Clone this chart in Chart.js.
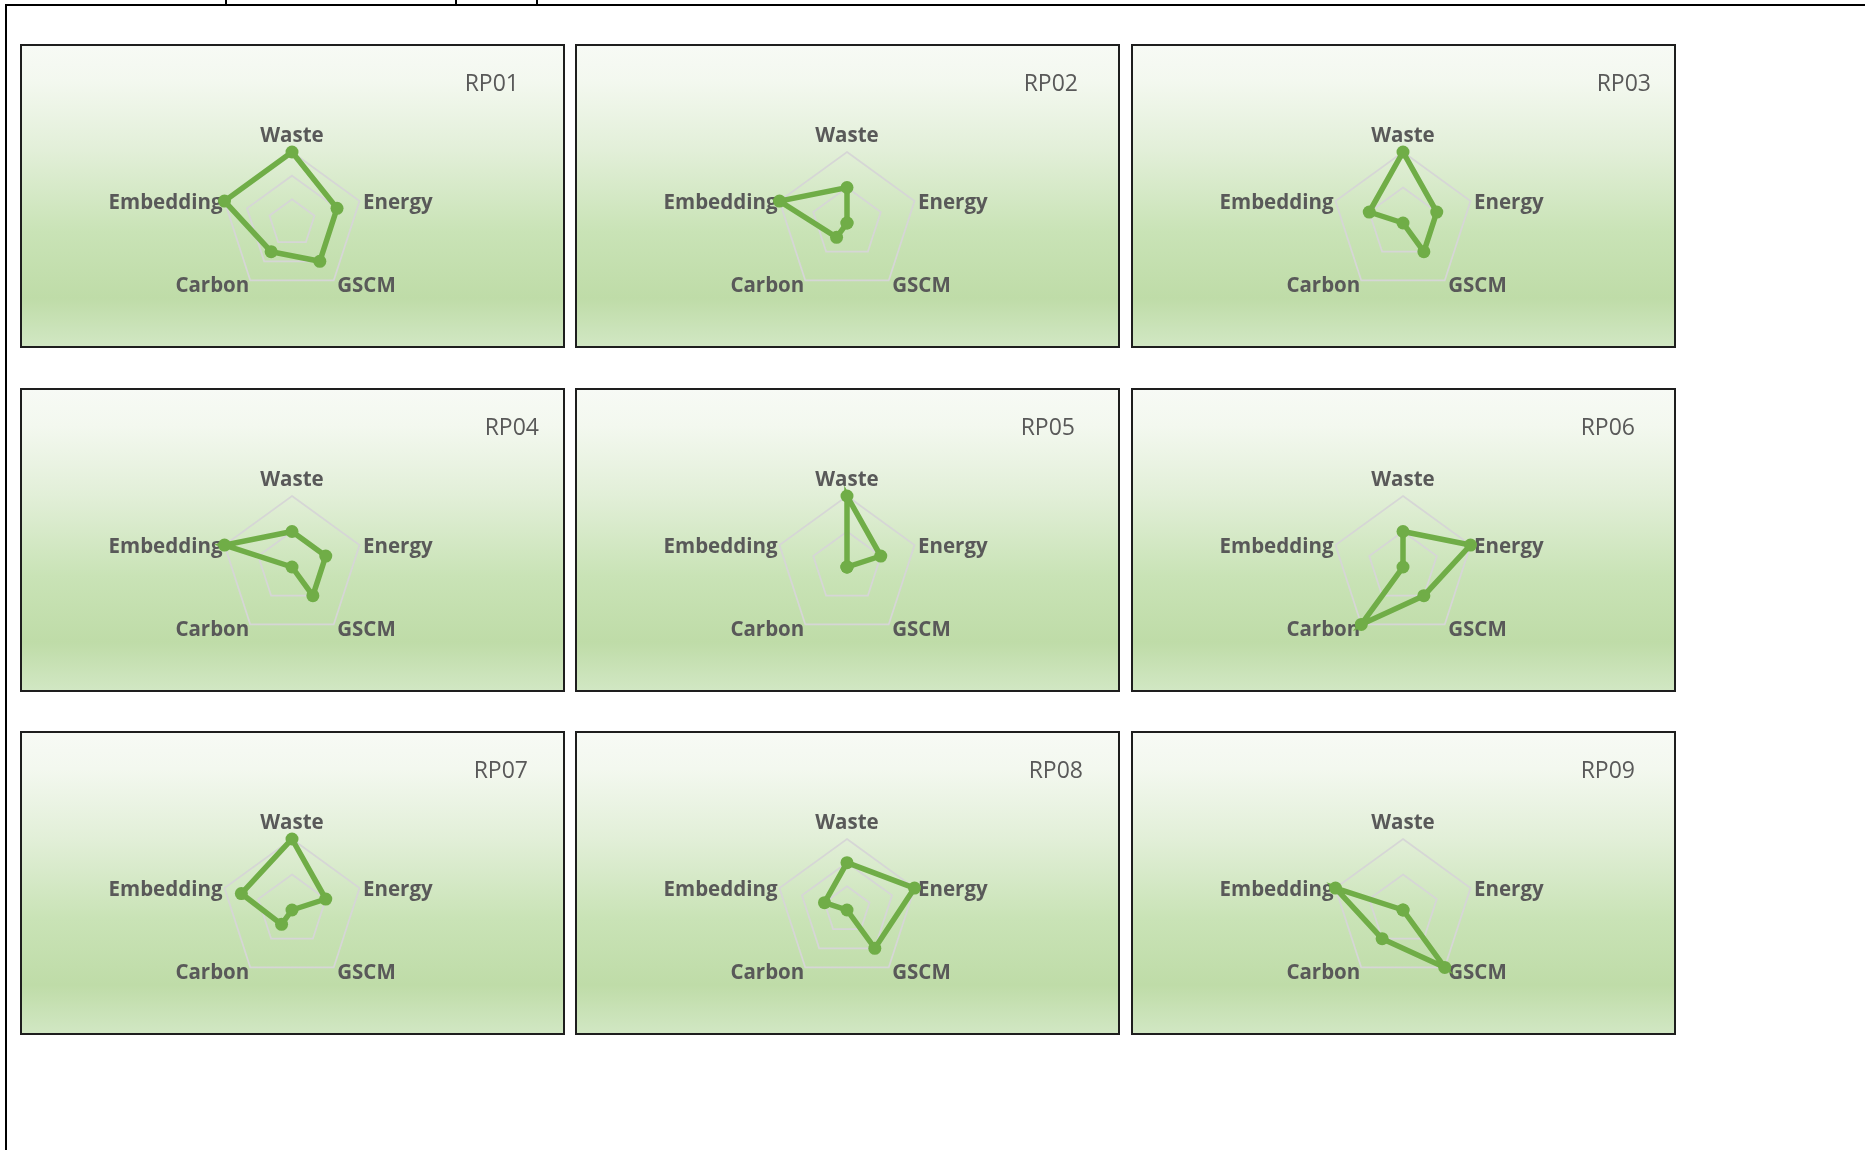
<!DOCTYPE html>
<html>
<head>
<meta charset="utf-8">
<script src="https://cdn.jsdelivr.net/npm/chart.js@4/dist/chart.umd.min.js"></script>
<style>
  html, body { margin: 0; padding: 0; background: #fff; }
  body { width: 1865px; height: 1150px; position: relative; overflow: hidden; font-family: "Open Sans", sans-serif; }
  .frame { position: absolute; left: 5px; top: 4px; width: 1900px; height: 1200px; border-left: 2px solid #000; border-top: 2px solid #000; }
  .tick { position: absolute; top: 0; width: 1.5px; height: 5px; background: #000; }
  .panel {
    position: absolute; width: 545px; height: 304px; box-sizing: border-box;
    border: 2px solid #1e1e1e;
    background: linear-gradient(to bottom, #f7faf5 0%, #f3f8ef 12%, #e2efd8 35%, #c9e3b6 62%, #bfdca8 84%, #d1e7c3 100%);
  }
  .panel canvas { display: block; }
</style>
</head>
<body>
<div class="frame"></div>
<div class="tick" style="left:225px"></div>
<div class="tick" style="left:455px"></div>
<div class="tick" style="left:536px"></div>
<div id="grid"></div>
<script>
// axes, clockwise from the top
const axisLabels = ["Waste", "Energy", "GSCM", "Carbon", "Embedding"];
const panelTitles = ["RP01", "RP02", "RP03", "RP04", "RP05", "RP06", "RP07", "RP08", "RP09"];

// scores per panel, same order as axisLabels
const rp01 = [3, 2, 2, 1.5, 3];
const rp02 = [1, 0, 0, 0.5, 2];
const rp03 = [2, 1, 1, 0, 1];
const rp04 = [1, 1, 1, 0, 2];
const rp05 = [2, 1, 0, 0, 0];
const rp06 = [1, 2, 1, 2, 0];
const rp07 = [2, 1, 0, 0.5, 1.5];
const rp08 = [2, 3, 2, 0, 1];
const rp09 = [0, 0, 2, 1, 2];
const panelValues = [rp01, rp02, rp03, rp04, rp05, rp06, rp07, rp08, rp09];

// radial axis maximum of each panel (grid rings every 1)
const axisMax = [3, 2, 2, 2, 2, 2, 2, 3, 2];

// layout
const colX = [20, 575, 1131];
const rowY = [44, 388, 731];
const titleRight = [46, 42, 25, 26, 45, 41, 37, 37, 41]; // distance of title from panel's right edge
const green = "#70ad47";
const textGrey = "#595959";

// draws the category labels round the pentagon
const axisLabelPlugin = {
  id: "axisLabels",
  beforeDatasetsDraw(chart) {
    const scale = chart.scales.r;
    const ctx = chart.ctx;
    ctx.save();
    ctx.font = "bold 20.5px 'Open Sans'";
    ctx.fillStyle = textGrey;
    ctx.textBaseline = "middle";
    chart.data.labels.forEach((txt, i) => {
      const p = scale.getPointPosition(i, scale.drawingArea);
      let x = p.x, y = p.y + 2.5;
      if (i === 0) { ctx.textAlign = "center"; y -= 18; }
      else if (i === 1) { ctx.textAlign = "left"; x += 3.5; }
      else if (i === 2) { ctx.textAlign = "left"; x += 3.5; y += 3.5; }
      else if (i === 3) { ctx.textAlign = "right"; x -= 1; y += 3.5; }
      else { ctx.textAlign = "right"; x -= 2; }
      ctx.fillText(txt, x, y);
    });
    ctx.restore();
  }
};

const grid = document.getElementById("grid");

panelTitles.forEach((title, k) => {
  const panel = document.createElement("div");
  panel.className = "panel";
  panel.style.left = colX[k % 3] + "px";
  panel.style.top = rowY[Math.floor(k / 3)] + "px";
  const canvas = document.createElement("canvas");
  canvas.width = 541;
  canvas.height = 300;
  panel.appendChild(canvas);
  grid.appendChild(panel);

  const side = titleRight[k] - 2;

  new Chart(canvas.getContext("2d"), {
    type: "radar",
    data: {
      labels: axisLabels,
      datasets: [{
        data: panelValues[k],
        borderColor: green,
        backgroundColor: green,
        borderWidth: 5.5,
        pointRadius: 6.5,
        pointBackgroundColor: green,
        pointBorderWidth: 0,
        fill: false,
      }],
    },
    options: {
      responsive: false,
      animation: false,
      layout: { padding: { left: side, right: side, top: 0, bottom: 51 } },
      plugins: {
        legend: { display: false },
        tooltip: { enabled: false },
        title: {
          display: true,
          text: title,
          align: "end",
          color: textGrey,
          font: { family: "'Open Sans'", size: 23, weight: "normal", lineHeight: 1.2 },
          padding: { top: 24.5, bottom: 54.5 },
        },
      },
      scales: {
        r: {
          min: 0,
          max: axisMax[k],
          ticks: { display: false, stepSize: 1 },
          grid: { color: "#d6d6d6", lineWidth: 1.8 },
          angleLines: { display: false },
          pointLabels: { display: false },
        },
      },
    },
    plugins: [axisLabelPlugin],
  });
});
</script>
</body>
</html>
